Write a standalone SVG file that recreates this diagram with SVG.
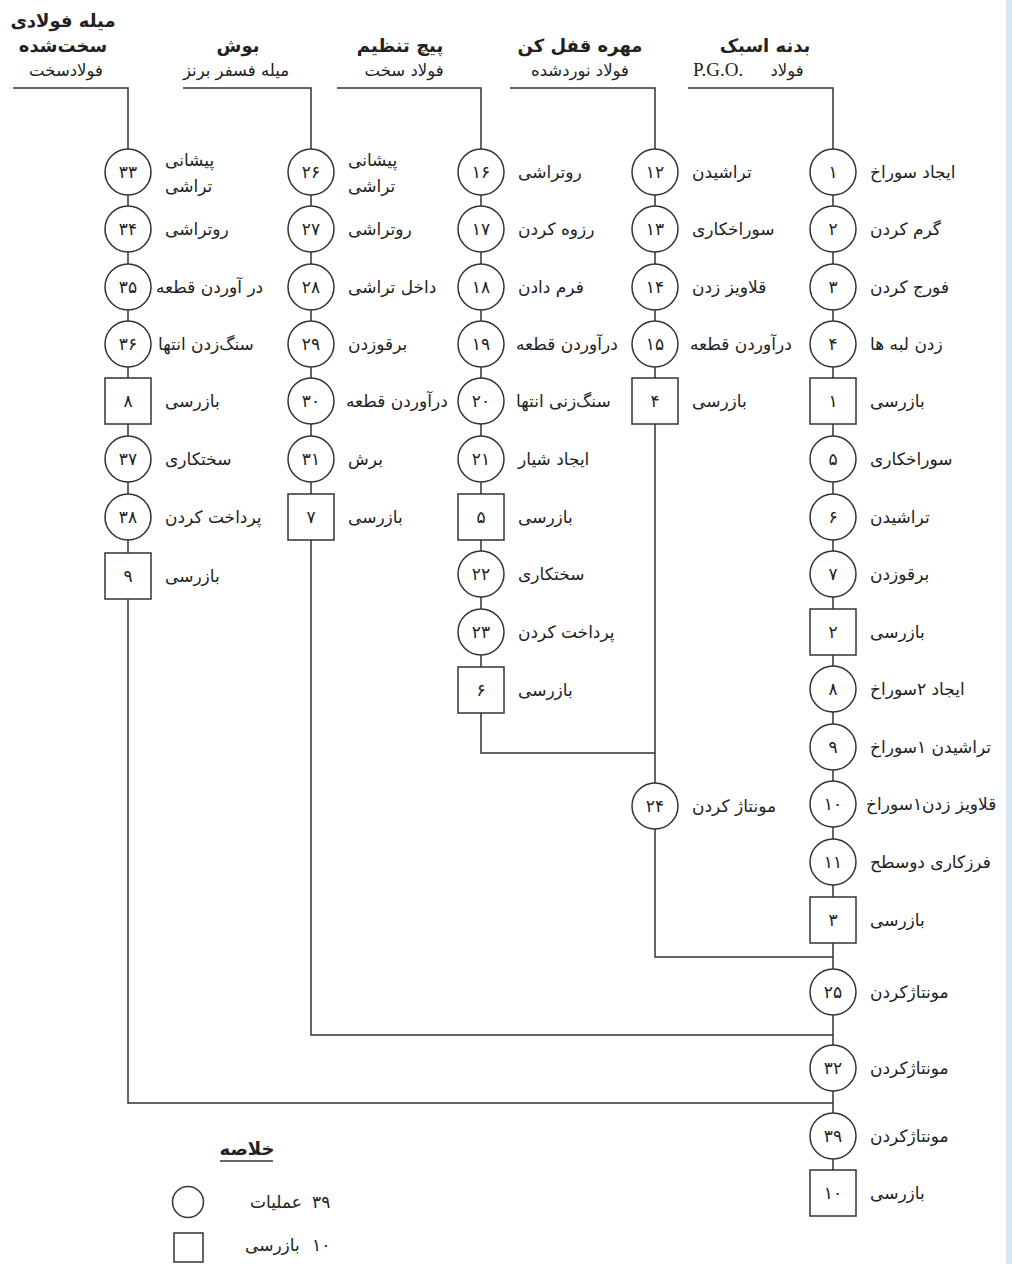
<svg xmlns="http://www.w3.org/2000/svg" width="1012" height="1264" viewBox="0 0 1012 1264">
<style>
.ln{stroke:#333;stroke-width:1.5;fill:none}
.nd{fill:#fff;stroke:#333;stroke-width:1.5}
.num{font-family:'DejaVu Sans',sans-serif;font-size:17px;fill:#222;text-anchor:middle}
.lbl{font-family:'DejaVu Sans',sans-serif;font-size:17px;fill:#222}
.ttl{font-family:'DejaVu Sans',sans-serif;font-size:18px;font-weight:bold;fill:#222;text-anchor:middle}
.sub{font-family:'DejaVu Sans',sans-serif;font-size:16.5px;fill:#222;text-anchor:middle}
.lat{font-family:'Liberation Serif',serif;font-size:19px;fill:#222}
</style>
<rect width="1012" height="1264" fill="#fff"/>
<rect x="1006" y="0" width="6" height="1264" fill="#d6e6f3"/>

<g id="headers">
  <text class="ttl" x="63" y="27">میله فولادی</text>
  <text class="ttl" x="63" y="52">سخت‌شده</text>
  <text class="sub" x="66" y="76">فولادسخت</text>
  <text class="ttl" x="238" y="52">بوش</text>
  <text class="sub" x="236" y="76">میله فسفر برنز</text>
  <text class="ttl" x="400" y="52">پیچ تنظیم</text>
  <text class="sub" x="404" y="76">فولاد سخت</text>
  <text class="ttl" x="580" y="52">مهره قفل کن</text>
  <text class="sub" x="580" y="76">فولاد نوردشده</text>
  <text class="ttl" x="765" y="52">بدنه اسبک</text>
  <text class="lat" x="693" y="76">P.G.O.</text>
  <text class="sub" x="787" y="76">فولاد</text>
</g>

<g id="connectors">
  <polyline class="ln" points="688,88 833,88 833,1170"/>
  <polyline class="ln" points="510,88 655,88 655,957 833,957"/>
  <polyline class="ln" points="337,88 481,88 481,753 655,753"/>
  <polyline class="ln" points="183,88 311,88 311,1035 833,1035"/>
  <polyline class="ln" points="13,88 128,88 128,1103 833,1103"/>
</g>

<!-- Column 1: بدنه اسبک -->
<g id="op1"><circle class="nd" cx="833" cy="172" r="23"/><text class="num" x="833" y="178">۱</text><text class="lbl" x="870" y="178">ایجاد سوراخ</text></g>
<g id="op2"><circle class="nd" cx="833" cy="229" r="23"/><text class="num" x="833" y="235">۲</text><text class="lbl" x="870" y="235">گرم کردن</text></g>
<g id="op3"><circle class="nd" cx="833" cy="287" r="23"/><text class="num" x="833" y="293">۳</text><text class="lbl" x="870" y="293">فورج کردن</text></g>
<g id="op4"><circle class="nd" cx="833" cy="344" r="23"/><text class="num" x="833" y="350">۴</text><text class="lbl" x="870" y="350">زدن لبه ها</text></g>
<g id="insp1"><rect class="nd" x="810" y="378" width="46" height="46"/><text class="num" x="833" y="407">۱</text><text class="lbl" x="870" y="407">بازرسی</text></g>
<g id="op5"><circle class="nd" cx="833" cy="459" r="23"/><text class="num" x="833" y="465">۵</text><text class="lbl" x="870" y="465">سوراخکاری</text></g>
<g id="op6"><circle class="nd" cx="833" cy="517" r="23"/><text class="num" x="833" y="523">۶</text><text class="lbl" x="870" y="523">تراشیدن</text></g>
<g id="op7"><circle class="nd" cx="833" cy="574" r="23"/><text class="num" x="833" y="580">۷</text><text class="lbl" x="870" y="580">برقوزدن</text></g>
<g id="insp2"><rect class="nd" x="810" y="609" width="46" height="46"/><text class="num" x="833" y="638">۲</text><text class="lbl" x="870" y="638">بازرسی</text></g>
<g id="op8"><circle class="nd" cx="833" cy="689" r="23"/><text class="num" x="833" y="695">۸</text><text class="lbl" x="870" y="695">ایجاد ۲سوراخ</text></g>
<g id="op9"><circle class="nd" cx="833" cy="747" r="23"/><text class="num" x="833" y="753">۹</text><text class="lbl" x="870" y="753">تراشیدن ۱سوراخ</text></g>
<g id="op10"><circle class="nd" cx="833" cy="804" r="23"/><text class="num" x="833" y="810">۱۰</text><text class="lbl" x="866" y="810">قلاویز زدن۱سوراخ</text></g>
<g id="op11"><circle class="nd" cx="833" cy="862" r="23"/><text class="num" x="833" y="868">۱۱</text><text class="lbl" x="870" y="868">فرزکاری دوسطح</text></g>
<g id="insp3"><rect class="nd" x="810" y="897" width="46" height="46"/><text class="num" x="833" y="926">۳</text><text class="lbl" x="870" y="926">بازرسی</text></g>
<g id="op25"><circle class="nd" cx="833" cy="992" r="23"/><text class="num" x="833" y="998">۲۵</text><text class="lbl" x="870" y="998">مونتاژکردن</text></g>
<g id="op32"><circle class="nd" cx="833" cy="1068" r="23"/><text class="num" x="833" y="1074">۳۲</text><text class="lbl" x="870" y="1074">مونتاژکردن</text></g>
<g id="op39"><circle class="nd" cx="833" cy="1136" r="23"/><text class="num" x="833" y="1142">۳۹</text><text class="lbl" x="870" y="1142">مونتاژکردن</text></g>
<g id="insp10"><rect class="nd" x="810" y="1170" width="46" height="46"/><text class="num" x="833" y="1199">۱۰</text><text class="lbl" x="870" y="1199">بازرسی</text></g>

<!-- Column 3: مهره قفل کن -->
<g id="op12"><circle class="nd" cx="655" cy="172" r="23"/><text class="num" x="655" y="178">۱۲</text><text class="lbl" x="692" y="178">تراشیدن</text></g>
<g id="op13"><circle class="nd" cx="655" cy="229" r="23"/><text class="num" x="655" y="235">۱۳</text><text class="lbl" x="692" y="235">سوراخکاری</text></g>
<g id="op14"><circle class="nd" cx="655" cy="287" r="23"/><text class="num" x="655" y="293">۱۴</text><text class="lbl" x="692" y="293">قلاویز زدن</text></g>
<g id="op15"><circle class="nd" cx="655" cy="344" r="23"/><text class="num" x="655" y="350">۱۵</text><text class="lbl" x="690" y="350">درآوردن قطعه</text></g>
<g id="insp4"><rect class="nd" x="632" y="378" width="46" height="46"/><text class="num" x="655" y="407">۴</text><text class="lbl" x="692" y="407">بازرسی</text></g>
<g id="op24"><circle class="nd" cx="655" cy="806" r="23"/><text class="num" x="655" y="812">۲۴</text><text class="lbl" x="692" y="812">مونتاژ کردن</text></g>

<!-- Column 2: پیچ تنظیم -->
<g id="op16"><circle class="nd" cx="481" cy="172" r="23"/><text class="num" x="481" y="178">۱۶</text><text class="lbl" x="518" y="178">روتراشی</text></g>
<g id="op17"><circle class="nd" cx="481" cy="229" r="23"/><text class="num" x="481" y="235">۱۷</text><text class="lbl" x="518" y="235">رزوه کردن</text></g>
<g id="op18"><circle class="nd" cx="481" cy="287" r="23"/><text class="num" x="481" y="293">۱۸</text><text class="lbl" x="518" y="293">فرم دادن</text></g>
<g id="op19"><circle class="nd" cx="481" cy="344" r="23"/><text class="num" x="481" y="350">۱۹</text><text class="lbl" x="516" y="350">درآوردن قطعه</text></g>
<g id="op20"><circle class="nd" cx="481" cy="401" r="23"/><text class="num" x="481" y="407">۲۰</text><text class="lbl" x="516" y="407">سنگ‌زنی انتها</text></g>
<g id="op21"><circle class="nd" cx="481" cy="459" r="23"/><text class="num" x="481" y="465">۲۱</text><text class="lbl" x="518" y="465">ایجاد شیار</text></g>
<g id="insp5"><rect class="nd" x="458" y="494" width="46" height="46"/><text class="num" x="481" y="523">۵</text><text class="lbl" x="518" y="523">بازرسی</text></g>
<g id="op22"><circle class="nd" cx="481" cy="574" r="23"/><text class="num" x="481" y="580">۲۲</text><text class="lbl" x="518" y="580">سختکاری</text></g>
<g id="op23"><circle class="nd" cx="481" cy="632" r="23"/><text class="num" x="481" y="638">۲۳</text><text class="lbl" x="518" y="638">پرداخت کردن</text></g>
<g id="insp6"><rect class="nd" x="458" y="667" width="46" height="46"/><text class="num" x="481" y="696">۶</text><text class="lbl" x="518" y="696">بازرسی</text></g>

<!-- Column 4: بوش -->
<g id="op26"><circle class="nd" cx="311" cy="172" r="23"/><text class="num" x="311" y="178">۲۶</text><text class="lbl" x="348" y="166">پیشانی</text><text class="lbl" x="348" y="192">تراشی</text></g>
<g id="op27"><circle class="nd" cx="311" cy="229" r="23"/><text class="num" x="311" y="235">۲۷</text><text class="lbl" x="348" y="235">روتراشی</text></g>
<g id="op28"><circle class="nd" cx="311" cy="287" r="23"/><text class="num" x="311" y="293">۲۸</text><text class="lbl" x="348" y="293">داخل تراشی</text></g>
<g id="op29"><circle class="nd" cx="311" cy="344" r="23"/><text class="num" x="311" y="350">۲۹</text><text class="lbl" x="348" y="350">برقوزدن</text></g>
<g id="op30"><circle class="nd" cx="311" cy="401" r="23"/><text class="num" x="311" y="407">۳۰</text><text class="lbl" x="346" y="407">درآوردن قطعه</text></g>
<g id="op31"><circle class="nd" cx="311" cy="459" r="23"/><text class="num" x="311" y="465">۳۱</text><text class="lbl" x="348" y="465">برش</text></g>
<g id="insp7"><rect class="nd" x="288" y="494" width="46" height="46"/><text class="num" x="311" y="523">۷</text><text class="lbl" x="348" y="523">بازرسی</text></g>

<!-- Column 5: میله فولادی سخت‌شده -->
<g id="op33"><circle class="nd" cx="128" cy="172" r="23"/><text class="num" x="128" y="178">۳۳</text><text class="lbl" x="165" y="166">پیشانی</text><text class="lbl" x="165" y="192">تراشی</text></g>
<g id="op34"><circle class="nd" cx="128" cy="229" r="23"/><text class="num" x="128" y="235">۳۴</text><text class="lbl" x="165" y="235">روتراشی</text></g>
<g id="op35"><circle class="nd" cx="128" cy="287" r="23"/><text class="num" x="128" y="293">۳۵</text><text class="lbl" x="156" y="293">در آوردن قطعه</text></g>
<g id="op36"><circle class="nd" cx="128" cy="344" r="23"/><text class="num" x="128" y="350">۳۶</text><text class="lbl" x="158" y="350">سنگ‌زدن انتها</text></g>
<g id="insp8"><rect class="nd" x="105" y="378" width="46" height="46"/><text class="num" x="128" y="407">۸</text><text class="lbl" x="165" y="407">بازرسی</text></g>
<g id="op37"><circle class="nd" cx="128" cy="459" r="23"/><text class="num" x="128" y="465">۳۷</text><text class="lbl" x="165" y="465">سختکاری</text></g>
<g id="op38"><circle class="nd" cx="128" cy="517" r="23"/><text class="num" x="128" y="523">۳۸</text><text class="lbl" x="165" y="523">پرداخت کردن</text></g>
<g id="insp9"><rect class="nd" x="105" y="553" width="46" height="46"/><text class="num" x="128" y="582">۹</text><text class="lbl" x="165" y="582">بازرسی</text></g>

<g id="legend">
  <text class="ttl" x="247" y="1155">خلاصه</text>
  <line class="ln" x1="220" y1="1161" x2="273" y2="1161"/>
  <circle class="nd" cx="188" cy="1202" r="15.5"/>
  <text class="lbl" x="250" y="1208">عملیات</text>
  <text class="lbl" x="312" y="1208">۳۹</text>
  <rect class="nd" x="174" y="1233" width="29" height="29"/>
  <text class="lbl" x="245" y="1251">بازرسی</text>
  <text class="lbl" x="312" y="1251">۱۰</text>
</g>
</svg>
